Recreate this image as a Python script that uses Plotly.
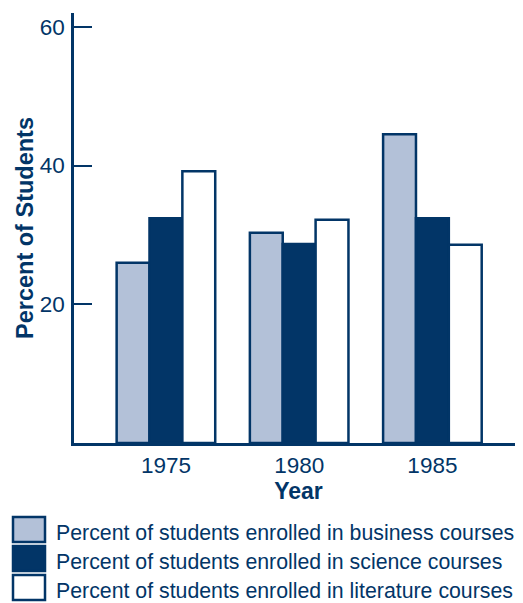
import plotly.graph_objects as go

years = ["1975", "1980", "1985"]
business = [26.0, 30.3, 44.5]
science = [32.4, 28.7, 32.4]
literature = [39.2, 32.2, 28.6]
series_names = [
    "Percent of students enrolled in business courses",
    "Percent of students enrolled in science courses",
    "Percent of students enrolled in literature courses",
]
y_ticks = [20, 40, 60]

NAVY = "#023567"
LIGHT = "#B3C1D8"
fills = [LIGHT, NAVY, "#FFFFFF"]
FONT = "Liberation Sans, Arial, sans-serif"

OFF = 8  # page body margin
W, H = 515, 595
ML, MR, MT = 74 - OFF, 0, 13 - OFF
MB = H - (443 - OFF)
PW, PH = W - ML - MR, H - MT - MB

def px_x(p):
    return (p - OFF - ML) / PW

def px_y(p):
    return (H - MB - (p - OFF)) / PH

fig = go.Figure()
for name, vals, fc in zip(series_names, [business, science, literature], fills):
    fig.add_trace(go.Bar(
        x=years, y=vals, name=name,
        marker=dict(color=fc, line=dict(color=NAVY, width=2.5)),
        showlegend=False,
    ))

shapes = []
annotations = []
row_tops = [517, 546, 575]
for (name, fc, top) in zip(series_names, fills, row_tops):
    shapes.append(dict(
        type="rect", xref="paper", yref="paper",
        x0=px_x(13), x1=px_x(45), y0=px_y(top + 25), y1=px_y(top),
        fillcolor=fc, line=dict(color=NAVY, width=2.5),
    ))
    annotations.append(dict(
        text=name, xref="paper", yref="paper",
        x=px_x(54), y=px_y(top + 16), xanchor="left", yanchor="middle",
        showarrow=False, font=dict(family=FONT, size=21.3, color=NAVY),
    ))

fig.update_layout(
    width=W, height=H,
    margin=dict(l=ML, r=MR, t=MT, b=MB, autoexpand=False),
    paper_bgcolor="white", plot_bgcolor="white",
    barmode="group", bargap=0.26, bargroupgap=0,
    font=dict(family=FONT, color=NAVY),
    shapes=shapes, annotations=annotations,
    xaxis=dict(
        type="category", range=[-0.69, 2.68],
        showline=True, linecolor=NAVY, linewidth=2.5,
        ticks="", showgrid=False, zeroline=False,
        tickfont=dict(family=FONT, size=22.5, color=NAVY),
        title=dict(text="<b>Year</b>", font=dict(family=FONT, size=23, color=NAVY), standoff=2),
    ),
    yaxis=dict(
        range=[0, 62], tickvals=y_ticks, ticktext=[str(v) for v in y_ticks],
        showline=True, linecolor=NAVY, linewidth=2.5,
        ticks="inside", ticklen=18, tickwidth=2, tickcolor=NAVY,
        ticklabelstandoff=2,
        showgrid=False, zeroline=False,
        tickfont=dict(family=FONT, size=22.5, color=NAVY),
        title=dict(text="<b>Percent of Students</b>", font=dict(family=FONT, size=23.5, color=NAVY), standoff=0),
    ),
)

fig.write_html("out.html")
